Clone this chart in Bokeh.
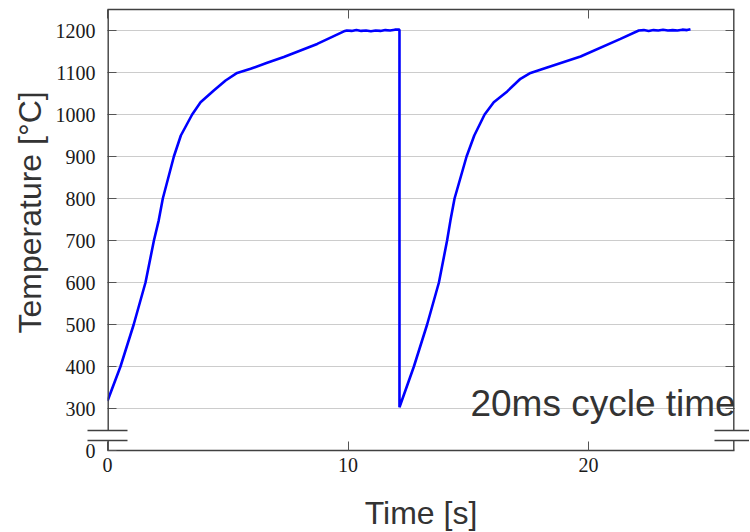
from bokeh.plotting import figure
from bokeh.models import Range1d, FixedTicker, LinearAxis, Label, Arrow, Title
from bokeh.embed import file_html
from bokeh.resources import INLINE

# ---- data ----
time_s = [0.0, 0.54, 1.09, 1.58, 1.93, 2.13, 2.30, 2.76, 3.05, 3.52, 3.87, 4.42, 4.91, 5.39, 5.95,
          6.64, 7.33, 8.72, 9.83,
          9.95, 10.15, 10.35, 10.55, 10.75, 10.95, 11.15, 11.35, 11.55, 11.75, 11.95, 12.14,
          12.14, 12.74, 13.29, 13.78, 14.12, 14.26, 14.43, 14.93, 15.25, 15.68, 16.06, 16.62,
          17.17, 17.59, 18.28, 19.67, 21.33, 22.09,
          22.3, 22.5, 22.7, 22.9, 23.1, 23.3, 23.5, 23.7, 23.9, 24.1, 24.24]
temp_c = [318, 400, 500, 600, 700, 748, 800, 900, 950, 1000, 1029, 1057, 1081, 1099, 1109,
          1123, 1137, 1168, 1198,
          1200, 1199, 1201, 1199, 1200, 1198, 1200, 1199, 1201, 1200, 1202, 1202,
          303, 400, 500, 600, 700, 748, 800, 900, 950, 1000, 1029, 1055,
          1085, 1099, 1112, 1138, 1180, 1200,
          1201, 1199, 1201, 1200, 1202, 1200, 1201, 1200, 1202, 1201, 1203]

x_ticks = [0, 10, 20]
y_ticks = [300, 400, 500, 600, 700, 800, 900, 1000, 1100, 1200]
y_zero_pos = 200          # where the broken axis shows "0"
x_max = 26.07
y_max = 1250
break_lo, break_hi = 223.8, 247.6

FRAME = "#404040"
TXT = "#333333"

p = figure(frame_width=627, frame_height=441,
           x_range=Range1d(0, x_max), y_range=Range1d(y_zero_pos, y_max),
           output_backend="svg", toolbar_location=None,
           min_border_left=107, min_border_top=9, min_border_right=8, min_border_bottom=80)
p.outline_line_color = None
p.xgrid.visible = False
p.ygrid.ticker = FixedTicker(ticks=y_ticks)
p.ygrid.grid_line_color = "#cccccc"
p.ygrid.grid_line_width = 1.2

def style_axis(ax, labels=True, brk=20):
    ax.major_tick_in = 9
    ax.major_tick_out = 0
    ax.major_tick_line_color = "#555555"
    ax.major_tick_line_width = 1
    ax.minor_tick_line_color = FRAME
    ax.minor_tick_line_width = 1.4
    ax.minor_tick_in = 20
    ax.minor_tick_out = brk
    ax.major_label_text_font = "Liberation Serif"
    ax.major_label_text_font_size = "20px" if labels else "0px"
    ax.major_label_text_color = "#1a1a1a"
    if not labels:
        ax.major_label_standoff = 0
        ax.major_label_text_alpha = 0

xa = p.xaxis[0]
xa.ticker = FixedTicker(ticks=x_ticks, minor_ticks=[])
style_axis(xa, brk=0)
xa.axis_line_color = FRAME
xa.axis_line_width = 1.4
xa.major_label_standoff = 7
xa.axis_label = "Time [s]"
xa.axis_label_text_font = "Liberation Sans"
xa.axis_label_text_font_size = "32px"
xa.axis_label_text_font_style = "normal"
xa.axis_label_text_color = TXT
xa.axis_label_standoff = 20

ya = p.yaxis[0]
ya.ticker = FixedTicker(ticks=[y_zero_pos] + y_ticks, minor_ticks=[break_lo, break_hi])
ya.major_label_overrides = {y_zero_pos: "0"}
style_axis(ya, brk=20)
ya.axis_line_color = None
ya.major_label_standoff = -8

top = LinearAxis(ticker=FixedTicker(ticks=x_ticks, minor_ticks=[]))
style_axis(top, labels=False, brk=0)
top.axis_line_color = FRAME
top.axis_line_width = 1.4
p.add_layout(top, "above")

right = LinearAxis(ticker=FixedTicker(ticks=y_ticks, minor_ticks=[break_lo, break_hi]))
style_axis(right, labels=False, brk=15)
right.axis_line_color = None
p.add_layout(right, "right")

p.add_layout(Title(text="Temperature [°C]", align="left", offset=117, standoff=10,
                   text_font="Liberation Sans", text_font_size="32px",
                   text_font_style="normal", text_color=TXT), "left")

p.line(time_s, temp_c, line_color="#0000ff", line_width=2.6)

# left / right frame edges with a gap at the axis break
def seg(x0, y0, x1, y1):
    p.add_layout(Arrow(end=None, x_start=x0, y_start=y0, x_end=x1, y_end=y1,
                       line_color=FRAME, line_width=2.8))

for xx in (0, x_max):
    seg(xx, break_hi, xx, y_max)
    seg(xx, y_zero_pos, xx, break_lo)

p.add_layout(Label(x=15.09, y=312, text="20ms cycle time", text_align="left",
                   text_baseline="alphabetic", text_font="Liberation Sans",
                   text_font_size="37px", text_color=TXT))

open("out.html", "w").write(file_html(p, INLINE))
